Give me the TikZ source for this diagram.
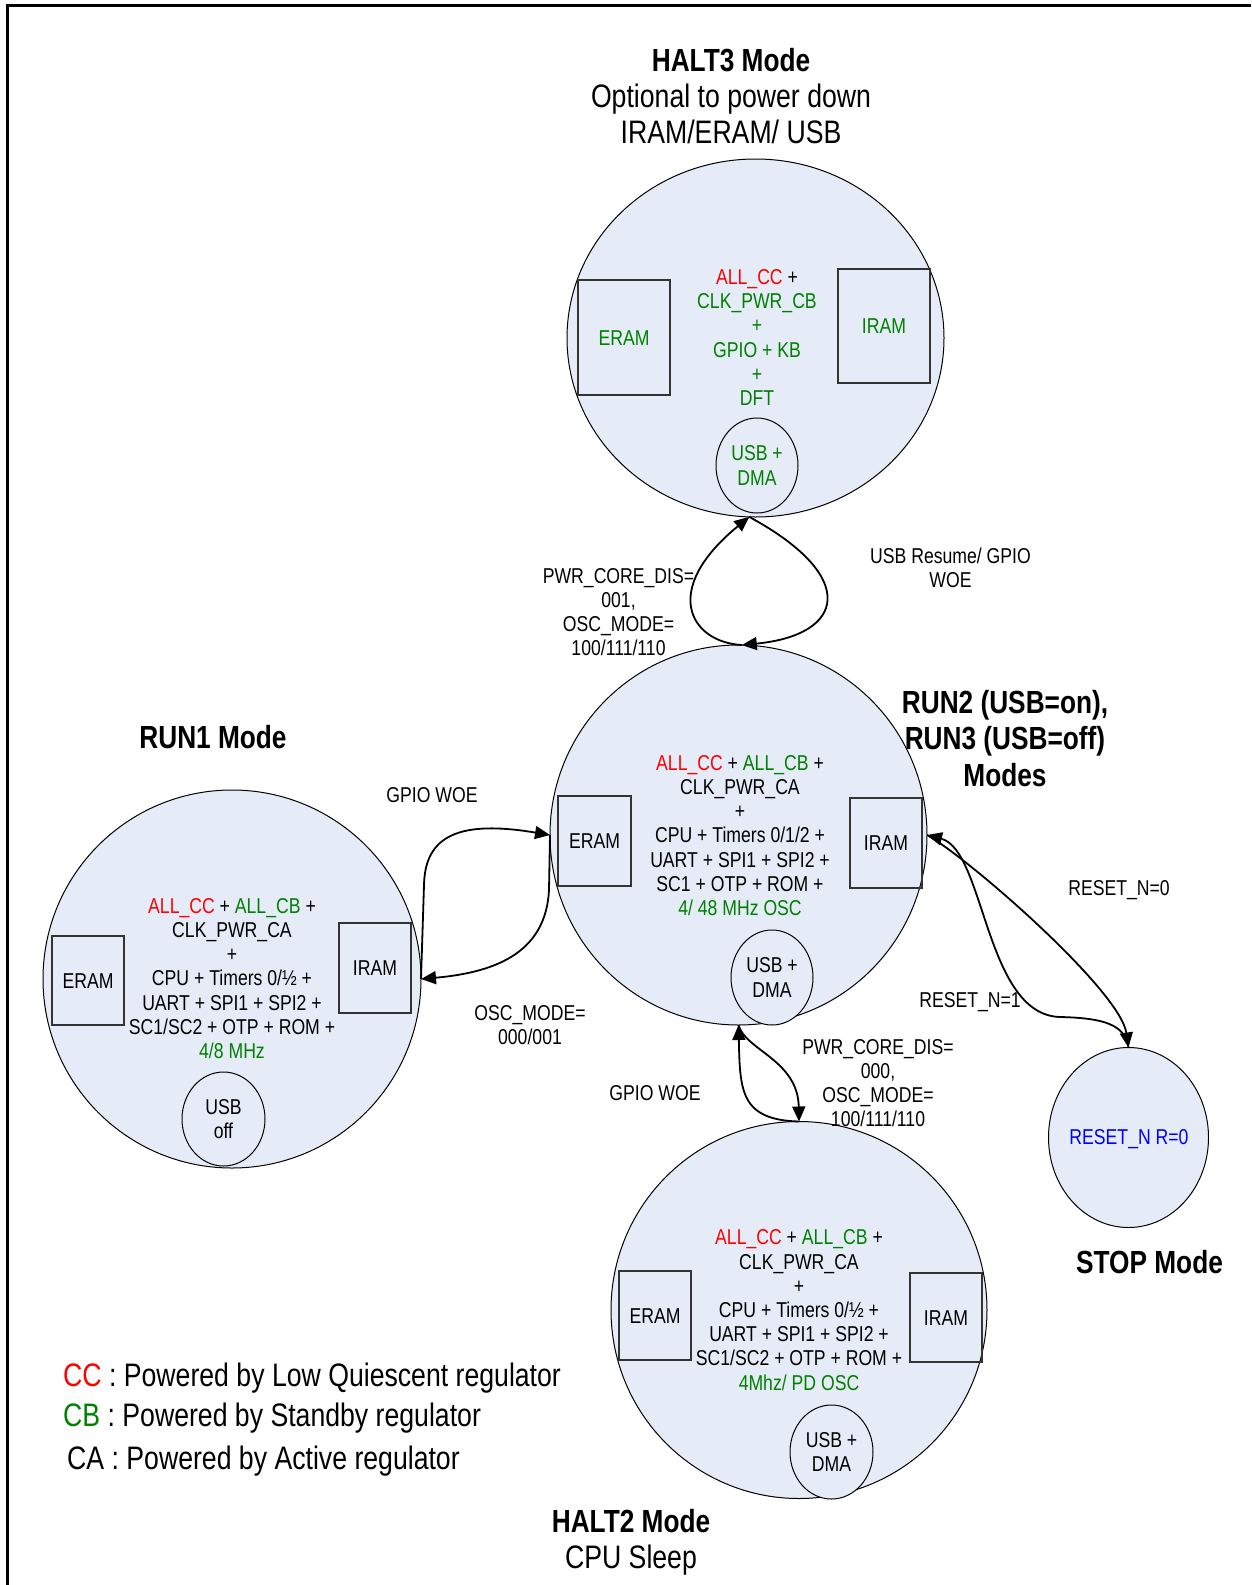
\documentclass[tikz,border=0pt]{standalone}
\usepackage{fontspec}
\setmainfont[FakeStretch=0.82]{Liberation Sans}
\usetikzlibrary{shapes.geometric,arrows.meta}
\definecolor{fillc}{RGB}{229,236,247}
\definecolor{cgreen}{RGB}{0,128,0}
\definecolor{cred}{RGB}{255,0,0}
\definecolor{cblue}{RGB}{0,0,255}
\newcommand\txtS{\fontsize{21.5}{24.2}\selectfont}
\newcommand\txtL{\fontsize{32.5}{36}\selectfont}
\newcommand\txtB{\fontsize{32}{36}\selectfont\bfseries}
\begin{document}
\begin{tikzpicture}[x=1pt,y=-1pt,
  state/.style={ellipse, draw=black, line width=1pt, fill=fillc, inner sep=0pt, outer sep=0pt, font=\txtS, align=center},
  ram/.style={rectangle, draw=black!80, line width=1.1pt, inner sep=0pt, outer sep=0pt, font=\txtS, text height=15.4pt, text depth=0pt},
  txt/.style={font=\txtS, align=center, inner sep=0pt},
  lbl/.style={font=\txtS, inner sep=0pt, text height=15.4pt, text depth=0pt},
  big/.style={font=\txtL, inner sep=0pt, text height=23.3pt, text depth=0pt},
  bigb/.style={font=\txtB, inner sep=0pt, text height=22.9pt, text depth=0pt},
  conn/.style={line width=1.8pt, -{Triangle[length=15pt,width=13pt]}}]
\useasboundingbox (0,0) rectangle (1251,1585);
\draw[line width=2.2pt] (7.5,1585) -- (7.5,5.5) -- (1251,5.5);

% states
\node[state, minimum width=377pt, minimum height=358pt] (halt3) at (755.5,338) {};
\node[state, minimum width=377pt, minimum height=380pt] (run2) at (738.5,835) {};
\node[state, minimum width=378pt, minimum height=378pt] (run1) at (232,979) {};
\node[state, minimum width=376pt, minimum height=377pt] (halt2) at (799,1310) {};
\node[state, minimum width=160pt, minimum height=180pt] (stop) at (1128.5,1137.5) {};
\node[lbl, text=cblue] (stoptxt) at (1129,1136.5) {RESET\_N R=0};

% memory boxes
\node[ram, minimum width=92pt, minimum height=115pt, text=cgreen] (h3eram) at (624,337.5) {ERAM};
\node[ram, minimum width=92pt, minimum height=114pt, text=cgreen] (h3iram) at (884,326) {IRAM};
\node[ram, minimum width=73pt, minimum height=90pt] (r2eram) at (594.5,841) {ERAM};
\node[ram, minimum width=72pt, minimum height=90pt] (r2iram) at (886,843) {IRAM};
\node[ram, minimum width=72pt, minimum height=89pt] (r1eram) at (88,980.5) {ERAM};
\node[ram, minimum width=72pt, minimum height=90pt] (r1iram) at (375,968) {IRAM};
\node[ram, minimum width=72pt, minimum height=89pt] (h2eram) at (655,1315.5) {ERAM};
\node[ram, minimum width=72pt, minimum height=89pt] (h2iram) at (946,1317.5) {IRAM};

% USB ellipses
\node[state, minimum width=82pt, minimum height=95pt, text=cgreen] (h3usb) at (757,465.5) {USB +\\DMA};
\node[state, minimum width=82pt, minimum height=95pt] (r2usb) at (772,977.5) {USB +\\DMA};
\node[state, minimum width=83pt, minimum height=94pt] (r1usb) at (223.5,1119) {USB\\off};
\node[state, minimum width=83pt, minimum height=94pt] (h2usb) at (831.5,1452) {USB +\\DMA};

% inner texts
\node[txt, text=cgreen] (h3txt) at (757,337.5) {\textcolor{cred}{ALL\_CC} \textcolor{black}{+}\\CLK\_PWR\_CB\\+\\GPIO + KB\\+\\DFT};
\node[txt] (r2txt) at (740,835.5) {\textcolor{cred}{ALL\_CC} + \textcolor{cgreen}{ALL\_CB} +\\CLK\_PWR\_CA\\+\\CPU + Timers 0/1/2 +\\UART + SPI1 + SPI2 +\\SC1 + OTP + ROM +\\\textcolor{cgreen}{4/ 48 MHz OSC}};
\node[txt] (r1txt) at (232,978.5) {\textcolor{cred}{ALL\_CC} + \textcolor{cgreen}{ALL\_CB} +\\CLK\_PWR\_CA\\+\\CPU + Timers 0/½ +\\UART + SPI1 + SPI2 +\\SC1/SC2 + OTP + ROM +\\\textcolor{cgreen}{4/8 MHz}};
\node[txt] (h2txt) at (799,1310) {\textcolor{cred}{ALL\_CC} + \textcolor{cgreen}{ALL\_CB} +\\CLK\_PWR\_CA\\+\\CPU + Timers 0/½ +\\UART + SPI1 + SPI2 +\\SC1/SC2 + OTP + ROM +\\\textcolor{cgreen}{4Mhz/ PD OSC}};

% titles
\node[bigb] (t1) at (731,60) {HALT3 Mode};
\node[big] (t1b) at (731,96) {Optional to power down};
\node[big] (t1c) at (731,132) {IRAM/ERAM/ USB};
\node[bigb] (t2) at (213,737) {RUN1 Mode};
\node[bigb] (t3a) at (1005,702) {RUN2 (USB=on),};
\node[bigb] (t3b) at (1005,738) {RUN3 (USB=off)};
\node[bigb] (t3c) at (1005,775) {Modes};
\node[bigb] (t4) at (1149.5,1262) {STOP Mode};
\node[bigb] (t5) at (631,1521) {HALT2 Mode};
\node[big] (t5b) at (631,1557) {CPU Sleep};

% legend
\node[big, anchor=west] (lg1) at (63,1375) {\textcolor{cred}{CC} : Powered by Low Quiescent regulator};
\node[big, anchor=west] (lg2) at (63,1415) {\textcolor{cgreen}{CB} : Powered by Standby regulator};
\node[big, anchor=west] (lg3) at (67,1458) {CA : Powered by Active regulator};

% edge labels
\node[txt] (l1) at (618.5,612) {PWR\_CORE\_DIS=\\001,\\OSC\_MODE=\\100/111/110};
\node[txt] (l2) at (950.5,567.5) {USB Resume/ GPIO\\WOE};
\node[lbl] (l3) at (432,795) {GPIO WOE};
\node[txt] (l4) at (530,1025) {OSC\_MODE=\\000/001};
\node[lbl] (l5) at (1119,888) {RESET\_N=0};
\node[lbl] (l6) at (970,1000) {RESET\_N=1};
\node[txt] (l7) at (878,1083) {PWR\_CORE\_DIS=\\000,\\OSC\_MODE=\\100/111/110};
\node[lbl] (l8) at (655,1093) {GPIO WOE};

% connectors
\draw[conn] (run2.89) .. controls (690,642) and (660,590) .. (halt3.-92);
\draw[conn] (halt3.-92) .. controls (860,577) and (845,635) .. (run2.89);
\draw[conn] (run1.east) -- (424,885) .. controls (425,835) and (460,820) .. (run2.west);
\draw[conn] (run2.west) -- (549,890) .. controls (546,950) and (500,972) .. (run1.east);
\draw[conn] (halt2.north) .. controls (740,1120) and (740,1090) .. (run2.south);
\draw[conn] (run2.south) .. controls (745,1050) and (798,1060) .. (halt2.north);
\draw[conn] (run2.east) .. controls (967,857) and (1120,990) .. (stop.north);
\draw[conn] (stop.north) .. controls (1125,1025) and (1105,1018) .. (1060,1017) .. controls (985,1015) and (985,850) .. (run2.east);
\end{tikzpicture}
\end{document}
